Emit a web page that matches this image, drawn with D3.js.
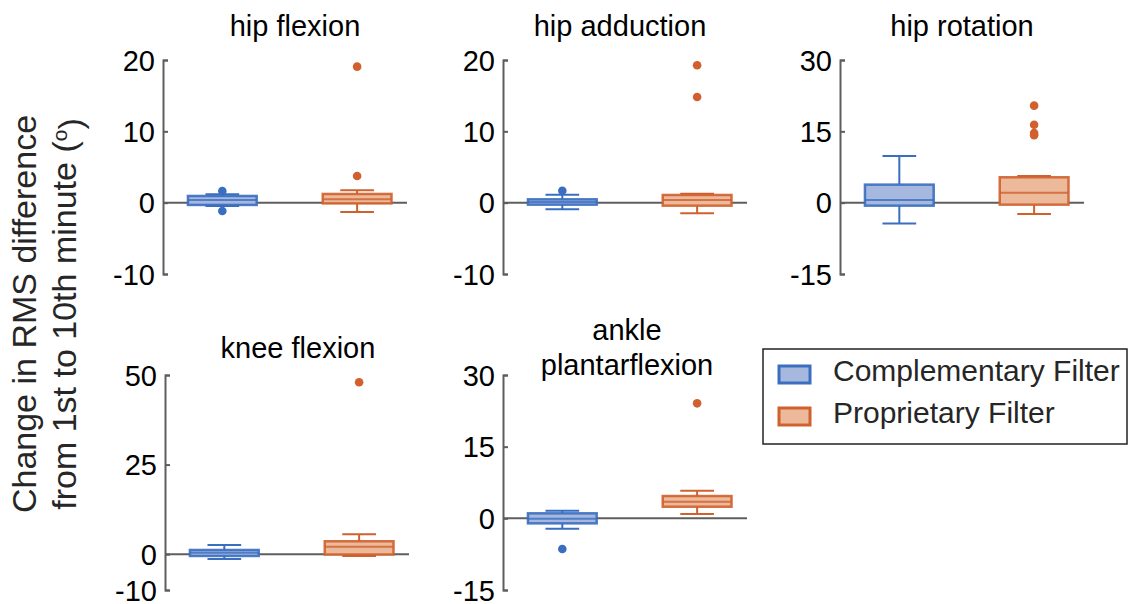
<!DOCTYPE html>
<html>
<head>
<meta charset="utf-8">
<script src="https://cdn.jsdelivr.net/npm/d3@7"></script>
<style>
  body { margin: 0; background: #fff; }
  text { font-family: "Liberation Sans", Arial, Helvetica, sans-serif; }
</style>
</head>
<body>
<div id="chart"></div>
<script>
// chart data
var joints = ["hip flexion", "hip adduction", "hip rotation", "knee flexion", "ankle plantarflexion"];
var filters = ["Complementary Filter", "Proprietary Filter"];
var yDomains = [[-10, 20], [-10, 20], [-15, 30], [-10, 50], [-15, 30]];
var yTicks = [[-10, 0, 10, 20], [-10, 0, 10, 20], [-15, 0, 15, 30], [-10, 0, 25, 50], [-15, 0, 15, 30]];
// [lower whisker, q1, median, q3, upper whisker]
var compBoxes = [
    [-0.46, -0.32, 0.38, 0.94, 1.18],
    [-0.93, -0.28, 0.08, 0.47, 1.12],
    [-4.4, -0.63, 0.57, 3.79, 9.82],
    [-1.34, -0.5, 0.42, 1.17, 2.57],
    [-2.18, -1.05, -0.08, 1.05, 1.59]
];
var propBoxes = [
    [-1.3, -0.1, 0.47, 1.22, 1.73],
    [-1.49, -0.42, 0.38, 1.08, 1.26],
    [-2.38, -0.42, 2.1, 5.34, 5.61],
    [-0.5, -0.1, 2.09, 3.6, 5.55],
    [0.9, 2.43, 3.47, 4.67, 5.78]
];
var compOutliers = [[1.64, -1.16], [1.68], [], [], [-6.43]];
var propOutliers = [[19.07, 3.74], [19.26, 14.82], [20.4, 16.4, 14.65, 14.2], [47.97], [24.07]];

// layout
var panels = [
    {x: 163, top: 60, bottom: 274, titleX: 295, titleY: [36]},
    {x: 503, top: 60, bottom: 274, titleX: 620, titleY: [36]},
    {x: 840, top: 60, bottom: 274, titleX: 962, titleY: [36]},
    {x: 165, top: 375, bottom: 590, titleX: 298, titleY: [358]},
    {x: 503, top: 375, bottom: 590, titleX: 627, titleY: [340, 375]}
];
var panelWidth = 244;
var edgeColors = ["#3a6ec0", "#d0602e"];
var fillColors = ["#a7b8de", "#ecb99b"];
var axisColor = "#5e5e5e";

var svg = d3.select("#chart").append("svg")
    .attr("width", 1128)
    .attr("height", 604);

function drawPanel(i) {
    var p = panels[i];
    var g = svg.append("g").attr("transform", "translate(" + p.x + ",0)");

    var x = d3.scaleLinear().domain([0.56, 2.37]).range([0, panelWidth]);
    var y = d3.scaleLinear().domain(yDomains[i]).range([p.bottom, p.top]);

    var axis = g.append("g")
        .call(d3.axisLeft(y).tickValues(yTicks[i])
            .tickFormat(function(d) { return String(d); })
            .tickSizeInner(-5).tickSizeOuter(-5).tickPadding(8));
    axis.select(".domain").attr("stroke", axisColor).attr("stroke-width", 2);
    axis.selectAll(".tick line").attr("stroke", axisColor).attr("stroke-width", 2);
    axis.selectAll(".tick text").attr("fill", "#000").style("font-size", "29px").attr("dy", "0.35em");

    // zero line
    g.append("line")
        .attr("x1", 0).attr("x2", panelWidth)
        .attr("y1", y(0)).attr("y2", y(0))
        .attr("stroke", axisColor).attr("stroke-width", 2);

    var boxW = x(0.51) - x(0);
    var capW = x(0.25) - x(0);
    [compBoxes[i], propBoxes[i]].forEach(function(b, k) {
        var cx = x(k + 1);
        var col = edgeColors[k];
        var bg = g.append("g");
        // whiskers
        bg.append("line").attr("x1", cx).attr("x2", cx).attr("y1", y(b[3])).attr("y2", y(b[4]))
            .attr("stroke", col).attr("stroke-width", 2);
        bg.append("line").attr("x1", cx).attr("x2", cx).attr("y1", y(b[1])).attr("y2", y(b[0]))
            .attr("stroke", col).attr("stroke-width", 2);
        [b[0], b[4]].forEach(function(v) {
            bg.append("line").attr("x1", cx - capW / 2).attr("x2", cx + capW / 2)
                .attr("y1", y(v)).attr("y2", y(v))
                .attr("stroke", col).attr("stroke-width", 2);
        });
        bg.append("rect")
            .attr("x", cx - boxW / 2).attr("width", boxW)
            .attr("y", y(b[3])).attr("height", Math.max(y(b[1]) - y(b[3]), 1))
            .attr("fill", fillColors[k]).attr("stroke", col).attr("stroke-width", 2.5)
            .attr("stroke-opacity", 0.9);
        bg.append("line").attr("x1", cx - boxW / 2).attr("x2", cx + boxW / 2)
            .attr("y1", y(b[2])).attr("y2", y(b[2]))
            .attr("stroke", col).attr("stroke-width", 2).attr("stroke-opacity", 0.8);
    });

    [compOutliers[i], propOutliers[i]].forEach(function(list, k) {
        g.selectAll(null).data(list).enter().append("circle")
            .attr("cx", x(k + 1))
            .attr("cy", function(d) { return y(d); })
            .attr("r", 4.3)
            .attr("fill", edgeColors[k]);
    });

    // title
    var words = i == 4 ? ["ankle", "plantarflexion"] : [joints[i]];
    words.forEach(function(w, j) {
        svg.append("text")
            .attr("x", p.titleX).attr("y", p.titleY[j])
            .attr("text-anchor", "middle")
            .style("font-size", "29px")
            .attr("fill", "#000")
            .text(w);
    });
}

for (var i = 0; i < joints.length; i++) drawPanel(i);

// y axis label
var ylab = svg.append("text")
    .attr("transform", "translate(0,314) rotate(-90)")
    .attr("text-anchor", "middle")
    .style("font-size", "34px")
    .attr("fill", "#262626");
ylab.append("tspan").attr("x", 0).attr("y", 36).text("Change in RMS difference");
ylab.append("tspan").attr("x", 0).attr("y", 76).text("from 1st to 10th minute (")
    .append("tspan").attr("dy", "-0.45em").style("font-size", "21px").text("o")
    .select(function() { return this.parentNode; })
    .append("tspan").attr("dy", "0.45em").text(")");

// legend
var legend = svg.append("g");
legend.append("rect")
    .attr("x", 763).attr("y", 349).attr("width", 364).attr("height", 95)
    .attr("fill", "#fff").attr("stroke", "#222").attr("stroke-width", 1.5);
filters.forEach(function(f, k) {
    legend.append("rect")
        .attr("x", 779).attr("y", 366 + k * 42).attr("width", 31).attr("height", 17)
        .attr("fill", fillColors[k]).attr("stroke", edgeColors[k]).attr("stroke-width", 3);
    legend.append("text")
        .attr("x", 833).attr("y", 381 + k * 42)
        .style("font-size", "30px")
        .attr("fill", "#262626")
        .text(f);
});
</script>
</body>
</html>
